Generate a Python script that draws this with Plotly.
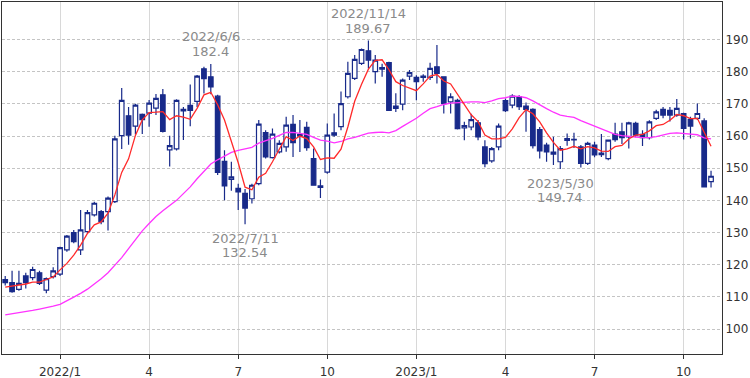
import pandas as pd
import plotly.graph_objects as go

# Weekly candles (Mondays), 2021-11-08 .. 2023-10-30
weeks = [d.strftime("%Y-%m-%d") for d in pd.date_range("2021-11-08", periods=104, freq="W-MON")]

opens = [115.4, 114.4, 112.3, 116.5, 116.0, 117.5, 112.1, 116.3, 117.1, 124.6,
         130.0, 124.6, 130.3, 135.5, 136.5, 136.5, 139.6, 160.1, 166.3, 163.1,
         166.7, 167.1, 168.7, 172.8, 155.7, 156.0, 167.8, 169.5, 170.8, 180.9,
         178.4, 172.4, 152.1, 146.5, 143.7, 142.2, 140.5, 145.2, 161.1, 153.3,
         155.1, 156.6, 163.6, 160.0, 162.7, 153.0, 144.5, 148.8, 161.0, 162.9,
         172.2, 177.9, 182.6, 186.5, 180.0, 181.3, 182.8, 169.3, 169.9, 178.6,
         178.2, 178.6, 178.2, 181.5, 178.4, 170.6, 171.1, 162.5, 162.8, 164.1,
         156.6, 152.3, 156.6, 171.0, 169.6, 172.2, 169.3, 168.3, 162.0, 157.2,
         155.0, 152.0, 158.6, 158.8, 156.6, 151.5, 157.2, 154.7, 153.0, 160.6,
         161.3, 159.7, 163.9, 160.5, 159.5, 165.5, 168.3, 168.0, 166.5, 167.0,
         165.2, 165.5, 164.7, 145.8]

highs = [116.5, 118.1, 118.1, 117.5, 119.4, 118.1, 116.0, 119.2, 125.6, 129.2,
         130.8, 137.0, 137.0, 139.6, 137.0, 141.2, 160.1, 174.9, 169.0, 170.0,
         167.0, 171.2, 173.1, 174.6, 160.1, 171.4, 169.0, 176.0, 179.0, 181.5,
         182.4, 172.8, 155.6, 152.0, 145.2, 143.5, 145.2, 165.0, 161.8, 162.3,
         158.7, 166.0, 166.5, 165.0, 164.4, 156.1, 146.5, 163.9, 167.0, 173.8,
         183.1, 185.2, 187.2, 189.67, 185.2, 182.5, 183.1, 173.3, 177.9, 180.5,
         178.9, 179.2, 182.8, 188.3, 178.6, 173.3, 171.6, 164.4, 166.9, 165.0,
         158.7, 156.6, 163.9, 171.7, 173.0, 172.7, 170.4, 168.6, 162.8, 157.9,
         159.8, 156.9, 160.8, 161.0, 157.2, 158.2, 158.2, 160.6, 158.9, 164.1,
         164.1, 164.4, 164.4, 161.8, 164.9, 168.2, 169.0, 169.0, 171.5, 167.2,
         166.0, 170.1, 165.5, 149.2]

lows = [113.5, 111.3, 111.9, 112.6, 115.2, 113.7, 111.1, 115.7, 116.5, 124.0,
        126.7, 123.0, 129.8, 135.0, 132.6, 130.6, 139.2, 156.0, 157.3, 160.5,
        160.6, 162.9, 166.5, 161.1, 150.5, 155.5, 158.8, 163.0, 169.0, 173.2,
        173.0, 147.9, 140.0, 143.0, 137.0, 132.54, 139.0, 144.7, 153.0, 153.0,
        154.6, 155.1, 153.5, 155.0, 155.4, 144.7, 140.7, 148.3, 159.8, 161.8,
        171.7, 177.4, 182.1, 181.0, 176.3, 178.4, 168.0, 167.5, 168.0, 177.4,
        171.1, 176.9, 177.4, 176.3, 167.0, 167.0, 162.0, 158.7, 161.8, 158.7,
        150.3, 151.7, 155.6, 167.5, 168.6, 168.1, 161.3, 156.1, 153.0, 152.0,
        151.0, 149.74, 157.0, 156.3, 150.2, 151.0, 153.4, 153.5, 152.5, 158.2,
        157.5, 156.1, 159.6, 156.9, 158.9, 165.0, 165.5, 164.5, 166.0, 158.9,
        159.2, 165.0, 144.0, 144.0]

closes = [114.4, 111.6, 114.2, 114.4, 118.5, 114.2, 115.7, 118.1, 125.3, 128.9,
          127.2, 130.8, 136.2, 139.1, 133.4, 140.7, 159.1, 171.1, 160.3, 169.6,
          165.1, 170.2, 171.7, 161.4, 157.0, 171.1, 168.3, 168.0, 178.6, 177.8,
          175.3, 148.7, 144.5, 147.3, 142.6, 137.6, 144.7, 163.7, 153.5, 160.6,
          157.7, 163.4, 157.9, 160.5, 156.4, 144.7, 144.0, 160.3, 160.3, 170.1,
          179.5, 183.8, 186.9, 183.6, 183.6, 180.8, 168.0, 168.6, 177.4, 179.7,
          176.9, 178.2, 181.0, 179.5, 170.1, 172.2, 162.3, 163.2, 165.1, 159.7,
          151.4, 156.1, 163.1, 167.9, 172.4, 169.1, 168.3, 157.0, 155.4, 155.1,
          154.4, 156.1, 159.2, 159.0, 151.5, 157.7, 154.1, 154.2, 158.7, 158.9,
          159.5, 164.1, 160.3, 159.5, 164.4, 167.5, 166.5, 166.5, 168.6, 162.4,
          163.1, 167.0, 144.2, 147.5]

# short moving average (red)
ma_short = [113.0, 113.3, 113.6, 114.0, 114.6, 114.6, 115.4, 116.2, 118.4, 120.4,
            123.0, 126.1, 129.7, 132.4, 133.3, 136.0, 141.7, 148.7, 152.9, 160.2,
            165.0, 167.3, 167.4, 167.6, 165.1, 166.3, 165.9, 165.2, 168.6, 172.8,
            173.6, 169.7, 165.0, 158.7, 151.7, 144.1, 143.3, 147.2, 148.4, 152.0,
            156.0, 159.8, 158.6, 160.0, 159.2, 156.6, 152.7, 153.2, 153.1, 155.9,
            162.8, 170.8, 176.1, 180.8, 183.5, 183.7, 180.6, 176.9, 175.7, 174.9,
            174.1, 176.2, 178.6, 179.1, 177.1, 176.2, 173.0, 169.5, 166.6, 164.5,
            160.3, 159.1, 159.1, 159.6, 162.2, 165.7, 168.2, 166.9, 164.4, 161.0,
            158.0, 155.6, 156.0, 156.8, 156.0, 156.7, 156.3, 155.3, 155.2, 156.7,
            157.1, 159.1, 160.3, 160.5, 161.6, 163.2, 163.6, 164.9, 166.7, 166.3,
            165.4, 165.5, 161.1, 156.8]

# long moving average (magenta)
ma_long = [104.4, 104.7, 105.0, 105.4, 105.8, 106.2, 106.6, 107.1, 107.7, 108.7,
           109.9, 111.1, 112.4, 114.0, 115.6, 117.5, 119.7, 122.2, 125.0, 127.8,
           130.5, 132.8, 135.0, 136.8, 138.3, 140.0, 142.1, 144.2, 146.7, 149.1,
           151.3, 152.6, 153.8, 154.9, 155.5, 155.9, 156.5, 157.8, 158.5, 159.3,
           160.2, 161.1, 161.1, 160.7, 160.5, 159.6, 158.7, 158.4, 157.9, 158.3,
           159.1, 159.6, 160.3, 160.9, 161.1, 161.2, 161.0, 161.7, 163.0, 164.2,
           165.5, 167.1, 168.5, 169.1, 169.8, 170.2, 170.4, 170.4, 170.6, 170.6,
           170.4, 170.9, 171.6, 171.9, 172.4, 172.3, 171.9, 170.9, 169.6, 168.5,
           167.4, 166.5, 166.1, 165.8, 164.8, 163.9, 163.0, 162.1, 161.3, 160.5,
           160.1, 159.8, 159.7, 159.5, 159.5, 159.8, 160.4, 160.8, 161.0, 160.8,
           160.4, 160.4, 159.4, 159.1]

tick_weeks = ["2022-01-03", "2022-04-04", "2022-07-04", "2022-10-03",
              "2023-01-02", "2023-04-03", "2023-07-03", "2023-10-02"]
tick_text = ["2022/1", "4", "7", "10", "2023/1", "4", "7", "10"]
y_ticks = [100, 110, 120, 130, 140, 150, 160, 170, 180, 190]

# extreme labels: (week, value, date label, value label, is_high)
extremes = [
    ("2022-06-06", 182.4, "2022/6/6", "182.4", True),
    ("2022-07-11", 132.54, "2022/7/11", "132.54", False),
    ("2022-11-14", 189.67, "2022/11/14", "189.67", True),
    ("2023-05-29", 149.74, "2023/5/30", "149.74", False),
]

NAVY = "#182a8a"
FONT = "DejaVu Sans"

fig = go.Figure()
fig.add_trace(go.Candlestick(
    x=weeks, open=opens, high=highs, low=lows, close=closes,
    increasing=dict(line=dict(color=NAVY, width=1.2), fillcolor="white"),
    decreasing=dict(line=dict(color=NAVY, width=1.2), fillcolor=NAVY),
    whiskerwidth=0, hoverinfo="skip",
))
fig.add_trace(go.Scatter(x=weeks, y=ma_long, mode="lines",
                         line=dict(color="#ff33ff", width=1.3), hoverinfo="skip"))
fig.add_trace(go.Scatter(x=weeks, y=ma_short, mode="lines",
                         line=dict(color="#ff2a2a", width=1.3), hoverinfo="skip"))

for wk, val, dlabel, vlabel, is_high in extremes:
    s1, s2 = (27, 12) if is_high else (-14, -28)
    for txt, sh in ((dlabel, s1), (vlabel, s2)):
        fig.add_annotation(x=wk, y=val, text=txt, showarrow=False,
                           yshift=sh, xanchor="center", yanchor="middle",
                           font=dict(family=FONT, size=13, color="#8a8a8a"))

fig.update_layout(
    template="none",
    width=750, height=378,
    margin=dict(l=2, r=28, t=2, b=24, pad=0),
    paper_bgcolor="white", plot_bgcolor="white",
    showlegend=False, hovermode=False,
    boxgap=0.05, boxgroupgap=0.3,
    font=dict(family=FONT, size=12, color="#333333"),
)
fig.update_xaxes(
    type="category", range=[-0.47, 104.6], automargin=False,
    tickmode="array", tickvals=tick_weeks, ticktext=tick_text,
    showgrid=True, gridcolor="#d8d8d8", gridwidth=1,
    ticks="outside", ticklen=4, tickcolor="#333333", tickwidth=1,
    ticklabelstandoff=3,
    showline=True, linecolor="#333333", linewidth=1, mirror=True,
    rangeslider=dict(visible=False), zeroline=False,
    tickfont=dict(family=FONT, size=12, color="#333333"),
)
fig.update_yaxes(
    side="right", range=[92.24, 201.66], automargin=False,
    tickmode="array", tickvals=y_ticks,
    showgrid=True, gridcolor="#c4c4c4", gridwidth=1, griddash="3px,2px",
    ticks="", ticklen=0, ticklabelstandoff=0,
    showline=True, linecolor="#333333", linewidth=1, mirror=True,
    zeroline=False,
    tickfont=dict(family=FONT, size=12, color="#333333"),
)

fig.write_html("out.html", config={"displayModeBar": False},
               post_script="document.body.style.margin='0';document.body.style.overflow='hidden';")
